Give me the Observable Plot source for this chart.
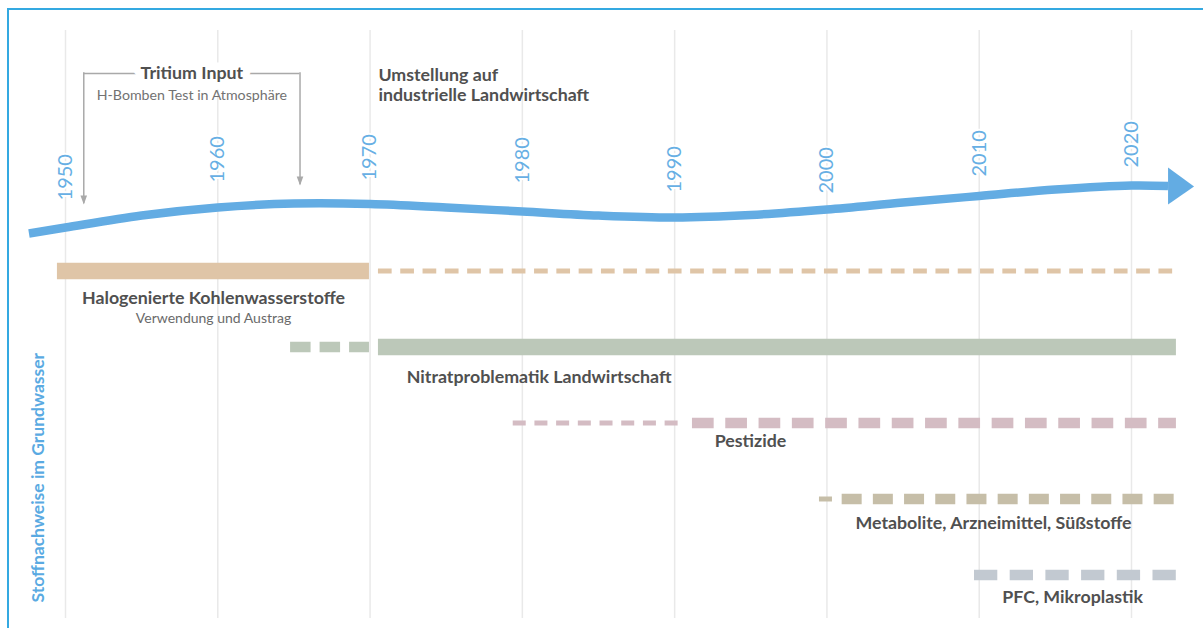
<!DOCTYPE html>
<html><head><meta charset="utf-8">
<script src="https://cdn.jsdelivr.net/npm/d3@7"></script>
<script src="https://cdn.jsdelivr.net/npm/@observablehq/plot@0.6"></script>
<style>
html,body{margin:0;padding:0;overflow:hidden;background:#fff;width:1203px;height:628px;}
#chart{position:absolute;left:0;top:0;}
#frame{position:absolute;left:7px;top:8px;width:1300px;height:700px;border-top:2px solid #34a9e1;border-left:2px solid #34a9e1;pointer-events:none;}
</style></head>
<body><div id="chart"></div><div id="frame"></div>
<script>
// ---- data ----
const decades = [1950, 1960, 1970, 1980, 1990, 2000, 2010, 2020];
const decadeLabels = ["1950", "1960", "1970", "1980", "1990", "2000", "2010", "2020"];
const decadeLabelLevel = [0.072, -0.164, -0.191, -0.151, -0.033, -0.020, -0.243, -0.362];

const timelineYears = [1947.6, 1950, 1955, 1960, 1965, 1970, 1975, 1980, 1985, 1990, 1995, 2000, 2005, 2010, 2015, 2020, 2022.4];
const timelineLevel = [0.507, 0.428, 0.270, 0.164, 0.112, 0.118, 0.164, 0.217, 0.270, 0.296, 0.263, 0.191, 0.099, 0.013, -0.072, -0.125, -0.118];

const rows = ["Halogenierte Kohlenwasserstoffe", "Nitratproblematik Landwirtschaft", "Pestizide", "Metabolite, Arzneimittel, Süßstoffe", "PFC, Mikroplastik"];
const rowSubtitles = ["Verwendung und Austrag", "", "", "", ""];

const segRow  = [0, 0, 1, 1, 2, 2, 3, 3, 4];
const segFrom = [1949.47, 1970.55, 1964.78, 1970.55, 1979.4, 1991.17, 1999.51, 2001.0, 2009.69];
const segTo   = [1969.96, 2022.95, 1969.96, 2022.95, 1990.25, 2022.95, 2000.37, 2022.95, 2022.95];
const segKind = ["solid", "thin", "thick", "solid", "thin", "thick", "thin", "thick", "thick"];

const tritiumYears = [1951.2, 1965.4];
const tritiumTips = [0.125, -0.125];
const tritiumLevel = -1.599;
const tritiumTitle = "Tritium Input";
const tritiumSub = "H-Bomben Test in Atmosphäre";
const umstellungYear = 1970.55;
const umstellungText = "Umstellung auf\nindustrielle Landwirtschaft";
const yTitle = "Stoffnachweise im Grundwasser";

// ---- styles / layout ----
const rowColors = ["#dfc5a7", "#bcc8b9", "#d4bcc3", "#c6bea8", "#c2c9d1"];
const thinDash = ["13.7 8.6", "", "13 8.7", "13 9", ""];
const thickDash = ["", "20.5 9", "21.7 11.6", "20 11.2", "23.3 12.4"];
const kindWidth = {solid: 16.5, thin: 5, thick: 10.5};
const labelX = [1959.72, 1981.1, 1994.98, 2010.94, 2016.13];
const labelDy = [26.8, 29.8, 17.8, 23.8, 21.8];
const blue = "#63ace3";
const textGray = "#505050";
const boldSize = 17.8;

const timeline = timelineYears.map((year, i) => ({year, level: timelineLevel[i]}));
const segments = segFrom.map((from, i) => ({row: segRow[i], from, to: segTo[i], kind: segKind[i]}));

const arrowHead = {draw(ctx) { ctx.moveTo(0, -18.5); ctx.lineTo(26, 0.5); ctx.lineTo(0, 18.5); ctx.closePath(); }};
const downHead = {draw(ctx) { ctx.moveTo(-3.3, -9); ctx.lineTo(3.3, -9); ctx.lineTo(0, 0); ctx.closePath(); }};

const segMarks = segments.map(s => Plot.ruleY([s], {
  x1: "from", x2: "to", y: d => d.row + 1,
  stroke: rowColors[s.row], strokeWidth: kindWidth[s.kind],
  strokeDasharray: s.kind === "thin" ? thinDash[s.row] : s.kind === "thick" ? thickDash[s.row] : null
}));

const labelMarks = rows.map((r, i) => Plot.text([r], {
  x: () => labelX[i], y: () => i + 1, dy: labelDy[i], text: d => d,
  fontSize: boldSize, fontWeight: "bold", fill: textGray, lineAnchor: "middle", textAnchor: "middle"
}));

const tipLast = timeline[timeline.length - 1];

const chart = Plot.plot({
  width: 1203, height: 628,
  marginTop: 30, marginBottom: 10, marginLeft: 0, marginRight: 0,
  style: {fontFamily: "Lato, 'Open Sans', sans-serif", background: "transparent"},
  x: {domain: [1950, 2020], range: [65, 1131], axis: null},
  y: {domain: [1, 5], range: [270.5, 574.5], axis: null},
  marks: [
    Plot.gridX(decades, {stroke: "#e9e9e9", strokeOpacity: 1, strokeWidth: 1.5}),
    ...segMarks,
    Plot.line(timeline, {x: "year", y: "level", stroke: blue, strokeWidth: 8.5, curve: "catmull-rom", strokeLinecap: "butt"}),
    Plot.dot([tipLast], {x: "year", y: "level", symbol: arrowHead, fill: blue, stroke: "none"}),
    Plot.text(decades, {x: d => d, y: (d, i) => decadeLabelLevel[i], text: (d, i) => decadeLabels[i],
      rotate: -90, textAnchor: "start", lineAnchor: "middle", fontSize: 20, fill: "#67afe4",
      stroke: "white", strokeWidth: 4}),
    ...labelMarks,
    Plot.text([rowSubtitles[0]], {x: () => labelX[0], y: () => 1, dy: 48, text: d => d,
      fontSize: 14, fill: "#6a6a6a", lineAnchor: "middle"}),
    // Tritium bracket
    Plot.ruleY([tritiumLevel], {x1: tritiumYears[0], x2: tritiumYears[1], y: d => d, stroke: "#a9a9a9", strokeWidth: 1.5}),
    Plot.ruleX(tritiumYears, {x: d => d, y1: tritiumLevel, y2: (d, i) => tritiumTips[i], stroke: "#a9a9a9", strokeWidth: 1.5, dy: -0.75}),
    Plot.dot(tritiumYears, {x: d => d, y: (d, i) => tritiumTips[i], symbol: downHead, fill: "#a9a9a9", stroke: "none"}),
    Plot.text([tritiumTitle], {x: () => (tritiumYears[0] + tritiumYears[1]) / 2, y: () => tritiumLevel, text: d => d,
      fontSize: 17.8, fontWeight: "bold", fill: textGray, lineAnchor: "middle", stroke: "white", strokeWidth: 15}),
    Plot.text([tritiumSub], {x: () => (tritiumYears[0] + tritiumYears[1]) / 2, y: () => tritiumLevel, dy: 21.5, text: d => d,
      fontSize: 14.2, fill: "#727272", lineAnchor: "middle"}),
    Plot.text([umstellungText], {x: () => umstellungYear, y: () => tritiumLevel, dy: -6.6, text: d => d,
      fontSize: boldSize, fontWeight: "bold", fill: textGray, lineAnchor: "top", textAnchor: "start", lineHeight: 1.13}),
    Plot.text([yTitle], {frameAnchor: "bottom-left", dx: 38, dy: -16, text: d => d, rotate: -90,
      textAnchor: "start", lineAnchor: "middle", fontSize: 17.5, fontWeight: "bold", fill: "#5aaae2"})
  ]
});
document.getElementById("chart").appendChild(chart);
</script>
</body></html>
